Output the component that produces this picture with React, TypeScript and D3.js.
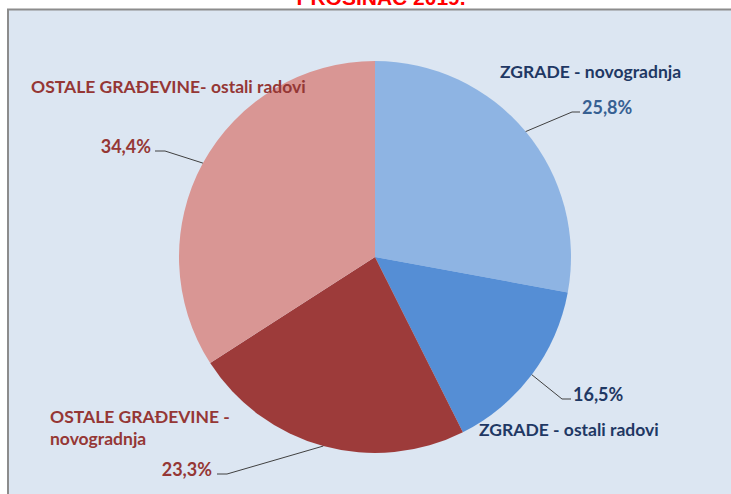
import React, { useEffect, useRef } from "react";
import * as d3 from "d3";

// slice shares as drawn in the chart, clockwise from 12 o'clock
const categories = [
  "ZGRADE - novogradnja",
  "ZGRADE - ostali radovi",
  "OSTALE GRAĐEVINE - novogradnja",
  "OSTALE GRAĐEVINE- ostali radovi",
];
const shares = [27.9, 14.7, 23.3, 34.1];
// percentages printed on the labels
const shareLabels = ["25,8%", "16,5%", "23,3%", "34,4%"];
const colors = ["#8eb4e3", "#558ed5", "#9d3b3a", "#d99694"];
const title = "PROSINAC 2019.";

const W = 731;
const H = 494;

// where the labels sit (layout only)
const labelLayout = [
  {
    name: [{ text: "ZGRADE - novogradnja", x: 500, y: 78 }],
    nameColor: "#1f3864",
    pct: { x: 582, y: 114, anchor: "start" },
    pctColor: "#376092",
    elbow: [572, 112],
    end: [580, 112],
  },
  {
    name: [{ text: "ZGRADE - ostali radovi", x: 479, y: 436 }],
    nameColor: "#1f3864",
    pct: { x: 573, y: 401, anchor: "start" },
    pctColor: "#1f3864",
    elbow: [562, 399],
    end: [571, 399],
  },
  {
    name: [
      { text: "OSTALE GRAĐEVINE -", x: 50, y: 423 },
      { text: "novogradnja", x: 50, y: 445 },
    ],
    nameColor: "#953735",
    pct: { x: 212, y: 476, anchor: "end" },
    pctColor: "#953735",
    elbow: [227, 474],
    end: [217, 474],
  },
  {
    name: [{ text: "OSTALE GRAĐEVINE- ostali radovi", x: 31, y: 93 }],
    nameColor: "#953735",
    pct: { x: 151, y: 153, anchor: "end" },
    pctColor: "#953735",
    elbow: [165, 151],
    end: [155, 151],
  },
];

const App = () => {
  const svgRef = useRef<SVGSVGElement | null>(null);

  useEffect(() => {
    if (!svgRef.current) return;
    const svg = d3.select(svgRef.current);
    svg.selectAll("*").remove();

    const cx = 375;
    const cy = 257;
    const r = 196;

    svg.append("rect").attr("width", W).attr("height", H).attr("fill", "#ffffff");

    // title, mostly cut off at the top
    svg
      .append("text")
      .attr("x", 381)
      .attr("y", 5)
      .attr("text-anchor", "middle")
      .attr("font-family", "Liberation Sans, Arial, sans-serif")
      .attr("font-weight", "bold")
      .attr("font-size", 21)
      .attr("fill", "#ff0000")
      .text(title);

    // chart area
    svg
      .append("rect")
      .attr("x", 8)
      .attr("y", 9.5)
      .attr("width", W + 10)
      .attr("height", H + 10)
      .attr("fill", "#dce6f2")
      .attr("stroke", "#8c8c8c")
      .attr("stroke-width", 2);

    const pie = d3
      .pie<number>()
      .sort(null)
      .value((d) => d);
    const arcs = pie(shares);
    const arc = d3.arc<d3.PieArcDatum<number>>().innerRadius(0).outerRadius(r);
    const edge = d3.arc<d3.PieArcDatum<number>>().innerRadius(r).outerRadius(r);

    const g = svg.append("g").attr("transform", `translate(${cx},${cy})`);
    g.selectAll("path")
      .data(arcs)
      .enter()
      .append("path")
      .attr("d", arc)
      .attr("fill", (d, i) => colors[i]);

    const font = "Lato, Carlito, Calibri, sans-serif";

    arcs.forEach((a, i) => {
      const lay = labelLayout[i];
      const [ex, ey] = edge.centroid(a);
      svg
        .append("polyline")
        .attr(
          "points",
          [
            [cx + ex, cy + ey],
            lay.elbow,
            lay.end,
          ]
            .map((p) => p.join(","))
            .join(" ")
        )
        .attr("fill", "none")
        .attr("stroke", "#404040")
        .attr("stroke-width", 1);

      svg
        .append("text")
        .attr("x", lay.pct.x)
        .attr("y", lay.pct.y)
        .attr("text-anchor", lay.pct.anchor)
        .attr("font-family", font)
        .attr("font-weight", "bold")
        .attr("font-size", 18)
        .attr("fill", lay.pctColor)
        .text(shareLabels[i]);

      lay.name.forEach((n) => {
        svg
          .append("text")
          .attr("x", n.x)
          .attr("y", n.y)
          .attr("font-family", font)
          .attr("font-weight", "bold")
          .attr("font-size", 17.5)
          .attr("fill", lay.nameColor)
          .text(n.text);
      });
    });
    // categories kept for reference / accessibility
    svg.attr("aria-label", categories.join(", "));
  }, []);

  return (
    <svg
      ref={svgRef}
      width={W}
      height={H}
      style={{ position: "absolute", left: 0, top: 0 }}
    ></svg>
  );
};

export default App;
